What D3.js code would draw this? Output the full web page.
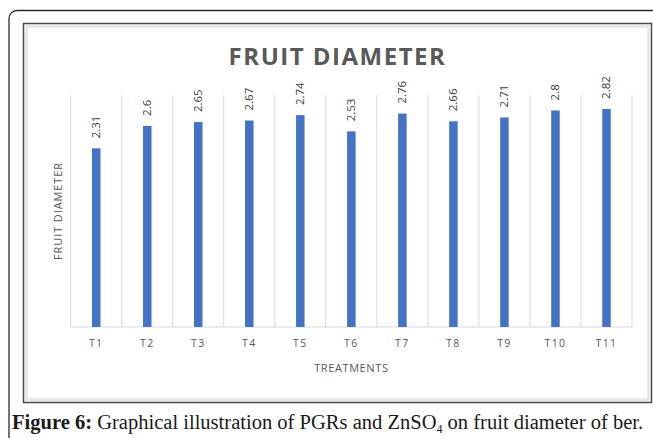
<!DOCTYPE html>
<html>
<head>
<meta charset="utf-8">
<script src="https://cdn.jsdelivr.net/npm/d3@7"></script>
<style>
  body { margin: 0; background: #fff; }
  svg { display: block; }
</style>
</head>
<body>
<div id="chart"></div>
<script>
// data
let treatments = ["T1", "T2", "T3", "T4", "T5", "T6", "T7", "T8", "T9", "T10", "T11"];
let diameters = [2.31, 2.6, 2.65, 2.67, 2.74, 2.53, 2.76, 2.66, 2.71, 2.8, 2.82];
let chartTitle = "FRUIT DIAMETER";
let xTitle = "TREATMENTS";
let yTitle = "FRUIT DIAMETER";

let width = 653, height = 438;
let plot = { left: 70.7, right: 632, top: 95, bottom: 327 };

let svg = d3.select("#chart")
    .append("svg")
    .attr("width", width)
    .attr("height", height);

// outer page frame (rounded, runs off the right and bottom)
svg.append("rect")
    .attr("x", 9).attr("y", 10.5)
    .attr("width", 720).attr("height", 520)
    .attr("rx", 8)
    .attr("fill", "none")
    .attr("stroke", "#2b2b2b")
    .attr("stroke-width", 1.3);

// chart box: dark outline + light inner rim
svg.append("rect")
    .attr("x", 23.5).attr("y", 23.5)
    .attr("width", 628).attr("height", 379)
    .attr("fill", "#fff")
    .attr("stroke", "#4a4a4a")
    .attr("stroke-width", 1.5);
svg.append("rect")
    .attr("x", 26.5).attr("y", 26.5)
    .attr("width", 622).attr("height", 373)
    .attr("fill", "none")
    .attr("stroke", "#e4e4e4")
    .attr("stroke-width", 2.5);

let x = d3.scaleBand()
    .domain(treatments)
    .range([plot.left, plot.right])
    .padding(0);

let y = d3.scaleLinear()
    .domain([0, 3])
    .range([plot.bottom, plot.top]);

let g = svg.append("g");

// vertical category gridlines
let edges = treatments.map(function(t) { return x(t); }).concat([x.range()[1]]);
g.selectAll("line.grid")
    .data(edges)
    .enter()
    .append("line")
    .attr("class", "grid")
    .attr("x1", function(d) { return d; })
    .attr("x2", function(d) { return d; })
    .attr("y1", y(3))
    .attr("y2", y(0))
    .attr("stroke", "#d9d9d9")
    .attr("stroke-width", 1);

// baseline
g.append("line")
    .attr("x1", plot.left).attr("x2", plot.right)
    .attr("y1", y(0)).attr("y2", y(0))
    .attr("stroke", "#d9d9d9")
    .attr("stroke-width", 1.2);

let barW = 8.5;
g.selectAll("rect.bar")
    .data(diameters)
    .enter()
    .append("rect")
    .attr("class", "bar")
    .attr("x", function(d, i) { return x(treatments[i]) + x.bandwidth() / 2 - barW / 2; })
    .attr("y", function(d) { return y(d); })
    .attr("width", barW)
    .attr("height", function(d) { return y(0) - y(d); })
    .attr("fill", "#4472c4");

// value labels, rotated
g.selectAll("text.val")
    .data(diameters)
    .enter()
    .append("text")
    .attr("class", "val")
    .attr("transform", function(d, i) {
        let cx = x(treatments[i]) + x.bandwidth() / 2;
        return `translate(${cx + 4}, ${y(d) - 10}) rotate(-90)`;
    })
    .style("font-family", "Open Sans")
    .style("font-size", "11.5px")
    .style("fill", "#404040")
    .text(function(d) { return d; });

// category axis
let xAxis = g.append("g")
    .attr("transform", `translate(0, ${y(0)})`)
    .call(d3.axisBottom(x).tickSize(0).tickPadding(13));
xAxis.select(".domain").remove();
xAxis.selectAll("text")
    .style("font-family", "Open Sans")
    .style("font-size", "10.5px")
    .style("letter-spacing", "1.4px")
    .style("fill", "#595959");

svg.append("text")
    .attr("x", (plot.left + plot.right) / 2)
    .attr("y", 372)
    .attr("text-anchor", "middle")
    .style("font-family", "Open Sans")
    .style("font-size", "11px")
    .style("letter-spacing", "0.6px")
    .style("fill", "#595959")
    .text(xTitle);

svg.append("text")
    .attr("transform", `translate(62, ${(plot.top + plot.bottom) / 2}) rotate(-90)`)
    .attr("text-anchor", "middle")
    .style("font-family", "Open Sans")
    .style("font-size", "11px")
    .style("letter-spacing", "0.9px")
    .style("fill", "#595959")
    .text(yTitle);

svg.append("text")
    .attr("x", 337.5)
    .attr("y", 65)
    .attr("text-anchor", "middle")
    .style("font-family", "Open Sans")
    .style("font-weight", 700)
    .style("font-size", "24px")
    .style("letter-spacing", "1.5px")
    .style("fill", "#595959")
    .text(chartTitle);

// figure caption
let cap = svg.append("text")
    .attr("x", 12)
    .attr("y", 429)
    .style("font-family", "Liberation Serif")
    .style("font-size", "19px")
    .style("fill", "#1a1a1a");
cap.append("tspan").style("font-weight", 700).text("Figure 6:");
cap.append("tspan").text(" Graphical illustration of PGRs and ZnSO");
cap.append("tspan").attr("dy", 4).style("font-size", "12px").text("4");
cap.append("tspan").attr("dy", -4).text(" on fruit diameter of ber.");
let capW = cap.node().getComputedTextLength();
cap.style("font-size", (19 * 632 / capW) + "px");
</script>
</body>
</html>
